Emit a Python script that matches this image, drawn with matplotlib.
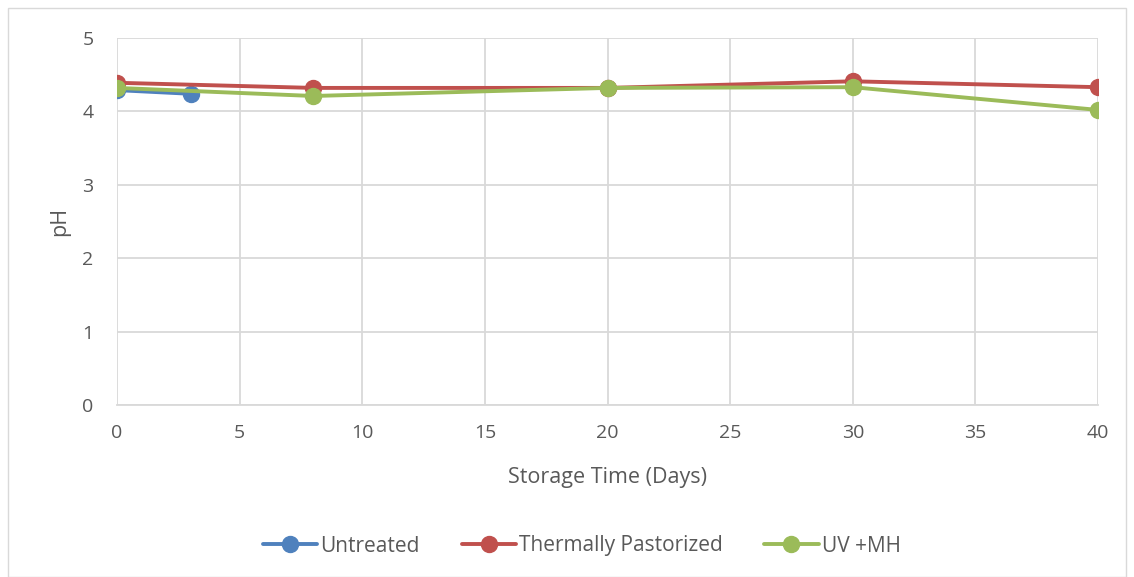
import matplotlib
matplotlib.use("Agg")
import matplotlib.pyplot as plt
from matplotlib.patches import Rectangle

plt.rcParams['font.family'] = ['Open Sans', 'DejaVu Sans']

days_untreated = [0, 3]
ph_untreated = [4.29, 4.24]

days_thermal = [0, 8, 20, 30, 40]
ph_thermal = [4.39, 4.32, 4.32, 4.41, 4.33]

days_uv = [0, 8, 20, 30, 40]
ph_uv = [4.32, 4.21, 4.32, 4.33, 4.02]

x_ticks = [0, 5, 10, 15, 20, 25, 30, 35, 40]
y_ticks = [0, 1, 2, 3, 4, 5]

W, H = 1134, 577
fig = plt.figure(figsize=(W / 100, H / 100), dpi=100)
fig.patches.append(Rectangle((8 / W, 0), (1126 - 8) / W, 1 - 8 / H,
                             transform=fig.transFigure, fill=False,
                             edgecolor='#d9d9d9', linewidth=1))

ax = fig.add_axes([117 / W, 1 - 405 / H, (1098 - 117) / W, (405 - 38) / H])

series = [
    (days_untreated, ph_untreated, '#4f81bd', 'Untreated'),
    (days_thermal, ph_thermal, '#c0504d', 'Thermally Pastorized'),
    (days_uv, ph_uv, '#9bbb59', 'UV +MH'),
]
for x, y, c, lab in series:
    ax.plot(x, y, color=c, lw=2.8, marker='o', ms=11.5, label=lab,
            solid_capstyle='round', zorder=3)

ax.set_xlim(0, 40)
ax.set_ylim(0, 5)
ax.set_xticks(x_ticks)
ax.set_yticks(y_ticks)
ax.grid(True, color='#d9d9d9', lw=1.3)
ax.set_axisbelow(True)
for s in ['top', 'right', 'left']:
    ax.spines[s].set_visible(False)
ax.spines['bottom'].set_color('#d9d9d9')
ax.spines['bottom'].set_linewidth(1.3)
ax.tick_params(length=0, colors='#595959', labelsize=14)
ax.tick_params(axis='x', pad=14)
ax.tick_params(axis='y', pad=17)

ax.set_xlabel('Storage Time (Days)', color='#595959', fontsize=15.5, labelpad=18)
ax.set_ylabel('pH', color='#595959', fontsize=15.5, labelpad=9)

fig.legend(loc='center', bbox_to_anchor=(582 / W, 1 - 546 / H), ncol=3,
           frameon=False, fontsize=15, labelcolor='#595959',
           handlelength=2.6, handletextpad=0.15, columnspacing=2.0)

fig.savefig('out.png', dpi=100)
